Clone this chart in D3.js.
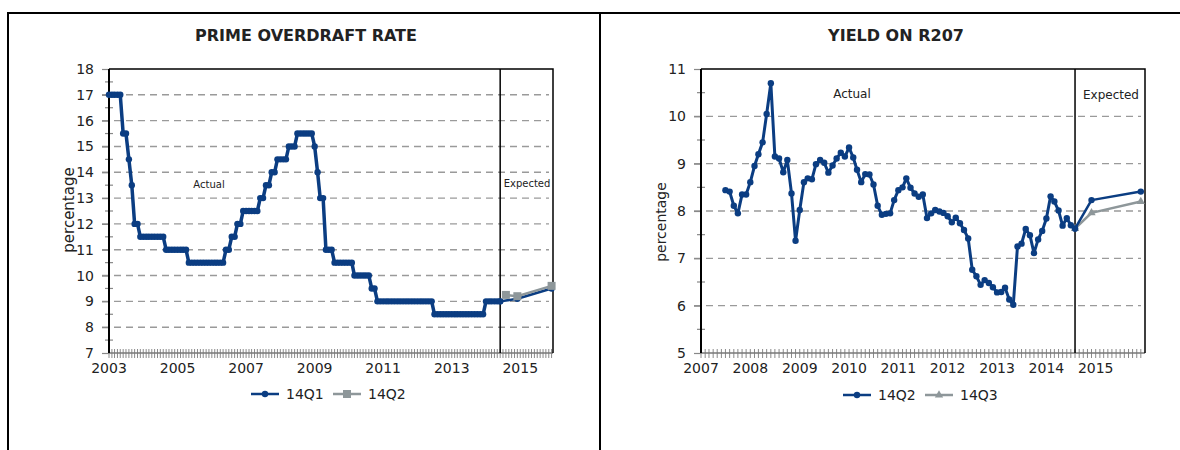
<!DOCTYPE html>
<html>
<head>
<meta charset="utf-8">
<script src="https://cdn.jsdelivr.net/npm/d3@7"></script>
<style>
body { margin: 0; background: #fff; }
svg text { font-family: "DejaVu Sans", sans-serif; fill: #222; }
</style>
</head>
<body>
<svg id="chart" width="1180" height="450"></svg>
<script>
// ---- data ----
// prime overdraft rate, monthly from Jan 2003 (14Q1 actual)
const primeStart = [2003, 0];
const primeActual = [17,17,17,17,17, 15.5,15.5, 14.5, 13.5, 12,12,
  11.5,11.5,11.5,11.5,11.5,11.5,11.5,11.5,11.5,
  11,11,11,11,11,11,11,11,
  10.5,10.5,10.5,10.5,10.5,10.5,10.5,10.5,10.5,10.5,10.5,10.5,10.5,
  11,11, 11.5,11.5, 12,12, 12.5,12.5,12.5,12.5,12.5,12.5,
  13,13, 13.5,13.5, 14,14, 14.5,14.5,14.5,14.5, 15,15,15,
  15.5,15.5,15.5,15.5,15.5,15.5, 15, 14, 13,13, 11,11,11,
  10.5,10.5,10.5,10.5,10.5,10.5,10.5, 10,10,10,10,10,10, 9.5,9.5,
  9,9,9,9,9,9,9,9,9,9,9,9,9,9,9,9,9,9,9,9,
  8.5,8.5,8.5,8.5,8.5,8.5,8.5,8.5,8.5,8.5,8.5,8.5,8.5,8.5,8.5,8.5,8.5,8.5,
  9,9,9,9,9,9];
const primeExpDates = ["2014-06", "2014-12", "2015-12"];
const primeExp14Q1 = [9, 9.1, 9.5];
const primeExpDatesQ2 = ["2014-08", "2014-12", "2015-12"];
const primeExp14Q2 = [9.25, 9.2, 9.6];

// yield on R207, monthly from Jul 2007 (14Q2 actual)
const r207Start = [2007, 6];
const r207Actual = [8.44,8.41,8.11,7.95,8.35,8.35,8.61,8.95,9.20,9.45,10.05,10.70,
  9.15,9.11,8.82,9.08,8.37,7.37,8.02,8.61,8.69,8.67,8.99,9.08,
  9.02,8.81,8.96,9.11,9.23,9.15,9.34,9.13,8.87,8.61,8.78,8.77,
  8.56,8.11,7.92,7.94,7.95,8.23,8.44,8.50,8.69,8.49,8.37,8.30,
  8.35,7.85,7.95,8.02,7.99,7.96,7.89,7.76,7.86,7.74,7.60,7.42,
  6.76,6.62,6.44,6.54,6.48,6.39,6.28,6.29,6.38,6.13,6.02,7.25,
  7.31,7.62,7.49,7.11,7.40,7.58,7.84,8.31,8.20,8.01,7.69,7.85,
  7.70,7.63];
const r207ExpDates = ["2014-08", "2014-12", "2015-12"];
const r207Exp14Q2 = [7.63, 8.23, 8.41];
const r207Exp14Q3 = [7.63, 7.96, 8.20];

const leftYears = [2003, 2005, 2007, 2009, 2011, 2013, 2015];
const rightYears = [2007, 2008, 2009, 2010, 2011, 2012, 2013, 2014, 2015];

const blue = "#0b3d82", grey = "#8e979a";
const parseMonth = d3.timeParse("%Y-%m");

const svg = d3.select("#chart");

// outer frames
svg.append("path")
  .attr("d", "M8,450V13H1180M600,13V450")
  .attr("fill", "none").attr("stroke", "#000").attr("stroke-width", 2);

function monthly(start, vals) {
  return vals.map((v, i) => ({ date: new Date(start[0], start[1] + i, 1), v: v }));
}
function paired(dates, vals) {
  return dates.map((d, i) => ({ date: parseMonth(d), v: vals[i] }));
}

function drawPanel(c) {
  const g = svg.append("g");
  const x = d3.scaleTime().domain(c.xDomain).range([c.left, c.right]);
  const y = d3.scaleLinear().domain(c.yDomain).range([c.bottom, c.top]);

  g.append("text").attr("x", c.titleX).attr("y", 41)
    .attr("text-anchor", "middle").style("font-weight", "bold").style("font-size", "16px")
    .attr("fill", "#000").text(c.title);

  // dashed grid
  const yInts = d3.range(c.yDomain[0], c.yDomain[1] + 1);
  g.selectAll(".grid").data(yInts.slice(1, -1)).join("line")
    .attr("x1", c.left - 7).attr("x2", c.right - 4)
    .attr("y1", d => y(d)).attr("y2", d => y(d))
    .attr("stroke", "#9a9a9a").attr("stroke-width", 1.4).attr("stroke-dasharray", "7,5");

  // minor y ticks
  g.selectAll(".ymin").data(d3.range(c.yDomain[0] + 0.5, c.yDomain[1], 1)).join("line")
    .attr("x1", c.left - 4).attr("x2", c.left + 4)
    .attr("y1", d => y(d)).attr("y2", d => y(d))
    .attr("stroke", "#888").attr("stroke-width", 1.2);

  // y axis
  const ya = g.append("g").attr("transform", `translate(${c.left},0)`)
    .call(d3.axisLeft(y).tickValues(yInts).tickSize(7).tickFormat(d3.format("d")));
  ya.select(".domain").remove();
  ya.selectAll(".tick line").attr("stroke", "#888").attr("stroke-width", 1.2);
  ya.selectAll(".tick text").attr("x", -15).style("font-size", "14px").style("font-family", "DejaVu Sans").attr("fill", "#222");

  // x axis: monthly ticks
  const months = d3.timeMonth.range(c.xDomain[0], c.xDomain[1]);
  g.selectAll(".xmin").data(months).join("line")
    .attr("x1", d => x(d)).attr("x2", d => x(d))
    .attr("y1", c.bottom - 4).attr("y2", c.bottom + 5)
    .attr("stroke", "#8a8a8a").attr("stroke-width", 1);
  g.append("line").attr("x1", c.left).attr("x2", c.right)
    .attr("y1", c.bottom).attr("y2", c.bottom).attr("stroke", "#777").attr("stroke-width", 1.5);
  g.selectAll(".xlab").data(c.years).join("text")
    .attr("x", d => x(new Date(d, 0, 1))).attr("y", c.bottom + 20)
    .attr("text-anchor", "middle").style("font-size", "14px")
    .text(d => d);

  // frame: left axis, top, right, divider
  g.append("line").attr("x1", c.left).attr("x2", c.left).attr("y1", c.top).attr("y2", c.bottom)
    .attr("stroke", "#000").attr("stroke-width", 2);
  g.append("path").attr("d", `M${c.left},${c.top}H${c.right}V${c.bottom}`)
    .attr("fill", "none").attr("stroke", "#000").attr("stroke-width", 1.5);
  const dx = x(c.divider);
  g.append("line").attr("x1", dx).attr("x2", dx).attr("y1", c.top).attr("y2", c.bottom)
    .attr("stroke", "#000").attr("stroke-width", 1.5);

  // y label
  g.append("text").attr("transform", `translate(${c.ylabX},${c.ylabY}) rotate(-90)`)
    .attr("text-anchor", "middle").style("font-size", c.ylabFont).attr("fill", "#333").text("percentage");

  // region labels
  g.append("text").attr("x", c.actualPos[0]).attr("y", c.actualPos[1])
    .attr("text-anchor", "middle").style("font-size", c.regionFont).text("Actual");
  g.append("text").attr("x", c.expPos[0]).attr("y", c.expPos[1])
    .attr("text-anchor", "middle").style("font-size", c.regionFont).text("Expected");

  const line = d3.line().x(d => x(d.date)).y(d => y(d.v));

  // series
  c.series.forEach(s => {
    g.append("path").datum(s.data).attr("d", line)
      .attr("fill", "none").attr("stroke", s.color).attr("stroke-width", s.width)
      .attr("stroke-linejoin", "round");
    const m = g.selectAll(null).data(s.data);
    if (s.marker === "circle") {
      m.join("circle").attr("cx", d => x(d.date)).attr("cy", d => y(d.v)).attr("r", 3.2).attr("fill", s.color);
    } else if (s.marker === "square") {
      m.join("rect").attr("x", d => x(d.date) - 4).attr("y", d => y(d.v) - 4)
        .attr("width", 8).attr("height", 8).attr("fill", s.color);
    } else {
      m.join("path").attr("d", d3.symbol(d3.symbolTriangle, 30))
        .attr("transform", d => `translate(${x(d.date)},${y(d.v)})`).attr("fill", s.color);
    }
  });

  // legend
  c.legend.forEach((l, i) => {
    const lx = l.x, ly = c.legendY;
    g.append("line").attr("x1", lx).attr("x2", lx + 28).attr("y1", ly).attr("y2", ly)
      .attr("stroke", l.color).attr("stroke-width", 2.5);
    if (l.marker === "circle") {
      g.append("circle").attr("cx", lx + 14).attr("cy", ly).attr("r", 3.2).attr("fill", l.color);
    } else if (l.marker === "square") {
      g.append("rect").attr("x", lx + 10).attr("y", ly - 4).attr("width", 8).attr("height", 8).attr("fill", l.color);
    } else {
      g.append("path").attr("d", d3.symbol(d3.symbolTriangle, 30))
        .attr("transform", `translate(${lx + 14},${ly})`).attr("fill", l.color);
    }
    g.append("text").attr("x", lx + 35).attr("y", ly + 5).style("font-size", "14px")
      .attr("fill", "#333").text(l.name);
  });
}

const primeAct = monthly(primeStart, primeActual);
drawPanel({
  title: "PRIME OVERDRAFT RATE", titleX: 306,
  left: 109, right: 553, top: 69, bottom: 353,
  xDomain: [new Date(2003, 0, 1), new Date(2015, 11, 16)],
  yDomain: [7, 18],
  years: leftYears,
  divider: primeAct[primeAct.length - 1].date,
  ylabX: 74, ylabY: 210, ylabFont: "15px",
  actualPos: [209, 188], expPos: [527, 187], regionFont: "10px",
  series: [
    { data: primeAct, color: blue, width: 3.5, marker: "circle" },
    { data: [primeAct[primeAct.length - 1]].concat(paired(primeExpDates, primeExp14Q1).slice(1)), color: blue, width: 2.5, marker: "circle" },
    { data: paired(primeExpDatesQ2, primeExp14Q2), color: grey, width: 2.5, marker: "square" }
  ],
  legendY: 394,
  legend: [
    { x: 251, name: "14Q1", color: blue, marker: "circle" },
    { x: 333, name: "14Q2", color: grey, marker: "square" }
  ]
});

const r207Act = monthly(r207Start, r207Actual);
drawPanel({
  title: "YIELD ON R207", titleX: 896,
  left: 701, right: 1145, top: 69, bottom: 353,
  xDomain: [new Date(2007, 0, 1), new Date(2016, 0, 1)],
  yDomain: [5, 11],
  years: rightYears,
  divider: r207Act[r207Act.length - 1].date,
  ylabX: 666, ylabY: 222, ylabFont: "14px",
  actualPos: [852, 98], expPos: [1111, 99], regionFont: "12px",
  series: [
    { data: r207Act, color: blue, width: 3, marker: "circle" },
    { data: paired(r207ExpDates, r207Exp14Q3), color: grey, width: 2.5, marker: "triangle" },
    { data: paired(r207ExpDates, r207Exp14Q2), color: blue, width: 2.5, marker: "circle" }
  ],
  legendY: 395,
  legend: [
    { x: 843, name: "14Q2", color: blue, marker: "circle" },
    { x: 925, name: "14Q3", color: grey, marker: "triangle" }
  ]
});
</script>
</body>
</html>
